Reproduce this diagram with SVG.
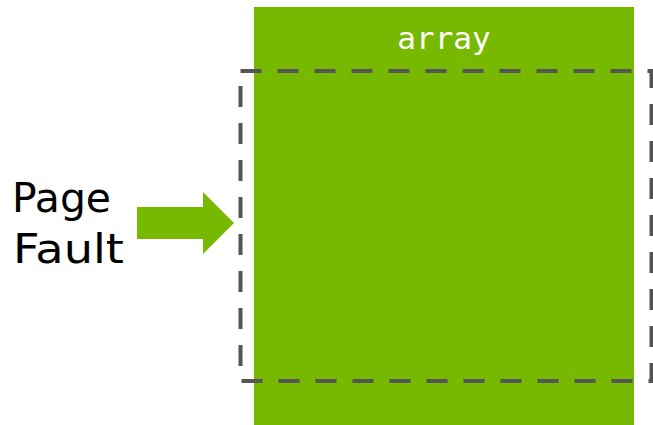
<svg xmlns="http://www.w3.org/2000/svg" width="653" height="425" viewBox="0 0 653 425">
<style>
.green{fill:#76b900}
.dash{fill:none;stroke:#555555;stroke-width:4;stroke-dasharray:21 16}
.label{font-family:"DejaVu Sans","Open Sans",sans-serif;font-size:40px;fill:#000}
.mono{font-family:"DejaVu Sans Mono","Liberation Mono",monospace;font-size:31px;fill:#fff}
</style>
<rect width="653" height="425" fill="#fff"/>
<g id="array">
<rect class="green" x="254" y="7" width="380" height="418"/>
<text class="mono" x="444" y="49" text-anchor="middle">array</text>
</g>
<g id="page-region">
<rect class="dash" x="240.5" y="71" width="411" height="310"/>
</g>
<g id="page-fault-label">
<text class="label" x="12" y="212" textLength="99" lengthAdjust="spacingAndGlyphs">Page</text>
<text class="label" x="13" y="263" textLength="111" lengthAdjust="spacingAndGlyphs">Fault</text>
</g>
<g id="connectors">
<polygon class="green" points="137,207 203,207 203,192 234,223 203,254 203,239 137,239"/>
</g>
</svg>
